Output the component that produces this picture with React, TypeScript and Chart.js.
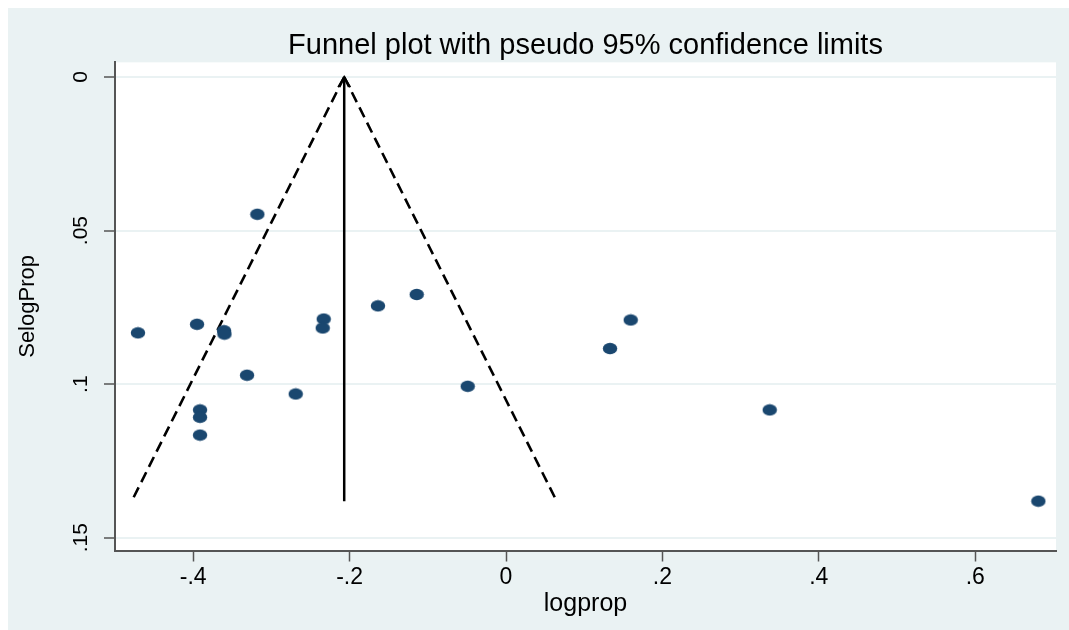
import React, { useEffect, useRef } from 'react';
import { Chart, registerables } from 'chart.js';

Chart.register(...registerables);

// Study estimates (x) and their standard errors (y)
const logprop = [
  -0.4706, -0.3951, -0.3606, -0.3600, -0.3180, -0.3312, -0.2689, -0.3913, -0.3913, -0.3913,
  -0.2331, -0.2344, -0.1637, -0.1142, -0.0490, 0.1595, 0.1330, 0.3372, 0.6807,
];
const selogprop = [
  0.0833, 0.0805, 0.0826, 0.0837, 0.0447, 0.0971, 0.1032, 0.1084, 0.1108, 0.1166,
  0.0788, 0.0817, 0.0745, 0.0708, 0.1007, 0.0791, 0.0884, 0.1084, 0.1381,
];

// Pooled estimate line and pseudo 95% confidence limits
const pooledX = [-0.2069, -0.2069];
const pooledY = [0, 0.1381];
const funnelLeftX = [-0.2069, -0.4786];
const funnelRightX = [-0.2069, 0.0648];
const funnelY = [0, 0.1381];
const arrowX = [-0.2146, -0.2069, -0.1992];
const arrowY = [0.0033, 0, 0.0033];

const xTicks = [-0.4, -0.2, 0, 0.2, 0.4, 0.6];
const xTickLabels = ['-.4', '-.2', '0', '.2', '.4', '.6'];
const yTicks = [0, 0.05, 0.1, 0.15];
const yTickLabels = ['0', '.05', '.1', '.15'];

const titleText = 'Funnel plot with pseudo 95% confidence limits';
const xTitle = 'logprop';
const yTitle = 'SelogProp';

const FONT = "'Liberation Sans', Arial, Helvetica, sans-serif";
const BG = '#EAF2F3';
const AXIS = '#555555';
const DOT = '#1a476f';

const pts = (xs: number[], ys: number[]) => xs.map((x, i) => ({ x, y: ys[i] }));

function makeDot(): HTMLCanvasElement {
  const c = document.createElement('canvas');
  c.width = 16;
  c.height = 13;
  const g = c.getContext('2d')!;
  g.fillStyle = DOT;
  g.beginPath();
  g.ellipse(8, 6.5, 7.2, 5.8, 0, 0, Math.PI * 2);
  g.fill();
  return c;
}

const bgPlugin = {
  id: 'bgPlugin',
  beforeDraw(chart: any) {
    const { ctx, chartArea: a, width, height } = chart;
    ctx.save();
    ctx.fillStyle = BG;
    ctx.fillRect(0, 0, width, height);
    ctx.fillStyle = '#ffffff';
    ctx.fillRect(a.left, a.top, a.right - a.left, a.bottom - a.top);
    ctx.restore();
  },
};

export default function App() {
  const ref = useRef<HTMLCanvasElement | null>(null);

  useEffect(() => {
    if (!ref.current) return;
    const dot = makeDot();
    const chart = new Chart(ref.current, {
      type: 'scatter',
      data: {
        datasets: [
          {
            label: 'studies',
            data: pts(logprop, selogprop),
            pointStyle: dot as any,
            pointRadius: 7,
            backgroundColor: DOT,
            borderColor: DOT,
          },
          {
            label: 'pooled',
            data: pts(pooledX, pooledY),
            showLine: true,
            borderColor: '#000',
            borderWidth: 2.5,
            pointRadius: 0,
          },
          {
            label: 'arrow',
            data: pts(arrowX, arrowY),
            showLine: true,
            borderColor: '#000',
            borderWidth: 2,
            pointRadius: 0,
          },
          {
            label: 'lower',
            data: pts(funnelLeftX, funnelY),
            showLine: true,
            borderColor: '#000',
            borderWidth: 2.6,
            borderDash: [11, 6],
            pointRadius: 0,
          },
          {
            label: 'upper',
            data: pts(funnelRightX, funnelY),
            showLine: true,
            borderColor: '#000',
            borderWidth: 2.6,
            borderDash: [11, 6],
            pointRadius: 0,
          },
        ],
      },
      options: {
        animation: false,
        responsive: false,
        devicePixelRatio: 1,
        layout: { padding: { left: 0, right: 13, top: 0, bottom: 0 } },
        plugins: {
          legend: { display: false },
          tooltip: { enabled: false },
          title: {
            display: true,
            text: titleText,
            fullSize: false,
            color: '#000',
            font: { family: FONT, size: 29, weight: 'normal', lineHeight: 1.15 },
            padding: { top: 21, bottom: 0 },
          },
        },
        scales: {
          x: {
            type: 'linear',
            min: -0.5,
            max: 0.7033,
            afterBuildTicks: (s: any) => {
              s.ticks = xTicks.map((v) => ({ value: v }));
            },
            afterFit: (s: any) => {
              s.height = 79.5;
            },
            ticks: {
              color: '#000',
              font: { family: FONT, size: 23 },
              padding: 2,
              maxRotation: 0,
              autoSkip: false,
              callback: (v: any) => {
                const i = xTicks.findIndex((t) => Math.abs(t - Number(v)) < 1e-9);
                return i >= 0 ? xTickLabels[i] : '';
              },
            },
            grid: {
              drawOnChartArea: false,
              drawTicks: true,
              tickLength: 11,
              tickColor: AXIS,
              tickWidth: 1.5,
            },
            border: { display: true, color: AXIS, width: 2 },
            title: {
              display: true,
              text: xTitle,
              color: '#000',
              font: { family: FONT, size: 25 },
              padding: { top: 0, bottom: 11 },
            },
          },
          y: {
            type: 'linear',
            reverse: true,
            min: -0.00478,
            max: 0.15417,
            afterBuildTicks: (s: any) => {
              s.ticks = yTicks.map((v) => ({ value: v }));
            },
            afterFit: (s: any) => {
              s.width = 107;
            },
            ticks: {
              color: '#000',
              font: { family: FONT, size: 21 },
              padding: 8,
              minRotation: 90,
              maxRotation: 90,
              crossAlign: 'center',
              autoSkip: false,
              callback: (v: any) => {
                const i = yTicks.findIndex((t) => Math.abs(t - Number(v)) < 1e-9);
                return i >= 0 ? yTickLabels[i] : '';
              },
            },
            grid: {
              drawOnChartArea: true,
              color: BG,
              lineWidth: 2,
              drawTicks: true,
              tickLength: 11,
              tickColor: AXIS,
              tickWidth: 1.5,
            },
            border: { display: true, color: AXIS, width: 2 },
            title: {
              display: true,
              text: yTitle,
              color: '#000',
              font: { family: FONT, size: 22 },
              padding: { top: 7, bottom: 0 },
            },
          },
        },
      } as any,
      plugins: [bgPlugin],
    });
    return () => chart.destroy();
  }, []);

  return (
    <div style={{ position: 'fixed', left: 8, top: 8, width: 1061, height: 622 }}>
      <canvas ref={ref} width={1061} height={622} style={{ width: 1061, height: 622, display: 'block' }} />
    </div>
  );
}
